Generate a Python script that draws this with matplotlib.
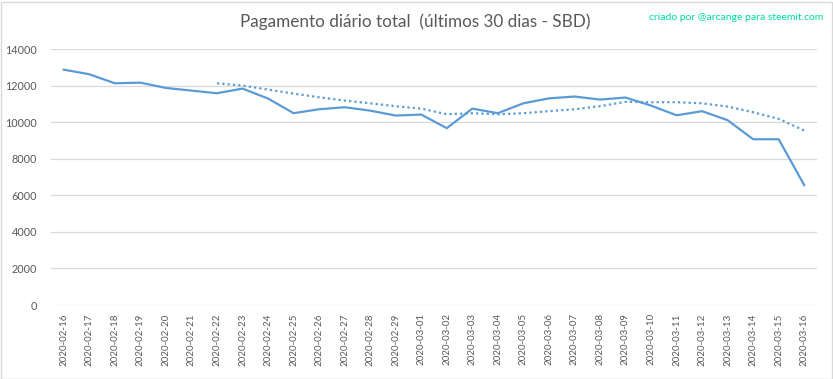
import matplotlib.pyplot as plt
from matplotlib.patches import Rectangle

dates = [
    "2020-02-16", "2020-02-17", "2020-02-18", "2020-02-19", "2020-02-20",
    "2020-02-21", "2020-02-22", "2020-02-23", "2020-02-24", "2020-02-25",
    "2020-02-26", "2020-02-27", "2020-02-28", "2020-02-29", "2020-03-01",
    "2020-03-02", "2020-03-03", "2020-03-04", "2020-03-05", "2020-03-06",
    "2020-03-07", "2020-03-08", "2020-03-09", "2020-03-10", "2020-03-11",
    "2020-03-12", "2020-03-13", "2020-03-14", "2020-03-15", "2020-03-16",
]
payout = [
    12870, 12620, 12125, 12160, 11870, 11725, 11580, 11835, 11290, 10490,
    10705, 10815, 10630, 10360, 10415, 9670, 10740, 10490, 11030, 11300,
    11400, 11235, 11345, 10905, 10375, 10600, 10105, 9065, 9065, 6555,
]
# 7-day moving average trendline (starts at 2020-02-22)
trend_start = 6
trend = [
    12125, 12000, 11780, 11560, 11360, 11180, 11030, 10870, 10740, 10430,
    10490, 10430, 10490, 10600, 10705, 10870, 11110, 11090, 11090, 11030,
    10850, 10540, 10180, 9540,
]
yticks = [0, 2000, 4000, 6000, 8000, 10000, 12000, 14000]

blue = "#5B9BD5"
grey_text = "#595959"
grid = "#D9D9D9"

fig = plt.figure(figsize=(8.33, 3.79), dpi=100)
ax = fig.add_axes([51 / 833, 1 - 305 / 379, 766 / 833, 256 / 379])

x = list(range(len(dates)))
ax.plot(x, payout, color=blue, lw=1.6, solid_joinstyle="round", zorder=3)
ax.plot(x[trend_start:], trend, color=blue, lw=1.6, ls=(0, (1, 1.4)), zorder=3)

ax.set_xlim(-0.5, len(dates) - 0.5)
ax.set_ylim(0, 14000)
ax.set_yticks(yticks)
ax.set_yticklabels([str(v) for v in yticks], fontsize=7.8, color=grey_text, family="Lato")
ax.set_xticks(x)
ax.set_xticklabels(dates, rotation=90, fontsize=7, color=grey_text, family="Lato")
ax.tick_params(length=0, pad=6)
ax.tick_params(axis="y", pad=10)
ax.grid(axis="y", color=grid, lw=0.9)
ax.set_axisbelow(True)
for s in ax.spines.values():
    s.set_visible(False)

fig.text(415 / 833, 1 - 22 / 379, "Pagamento diário total  (últimos 30 dias - SBD)",
         ha="center", va="center", fontsize=12.3, color=grey_text, family="Lato")
fig.text(823 / 833, 1 - 17 / 379, "criado por @arcange para steemit.com",
         ha="right", va="center", fontsize=7.5, color="#00D9A0", family="Lato")

fig.patches.append(Rectangle((0.5 / 833, 0.5 / 379), 831 / 833, 377 / 379,
                             transform=fig.transFigure, fill=False, ec=grid, lw=1))

fig.savefig("out.png", dpi=100)
